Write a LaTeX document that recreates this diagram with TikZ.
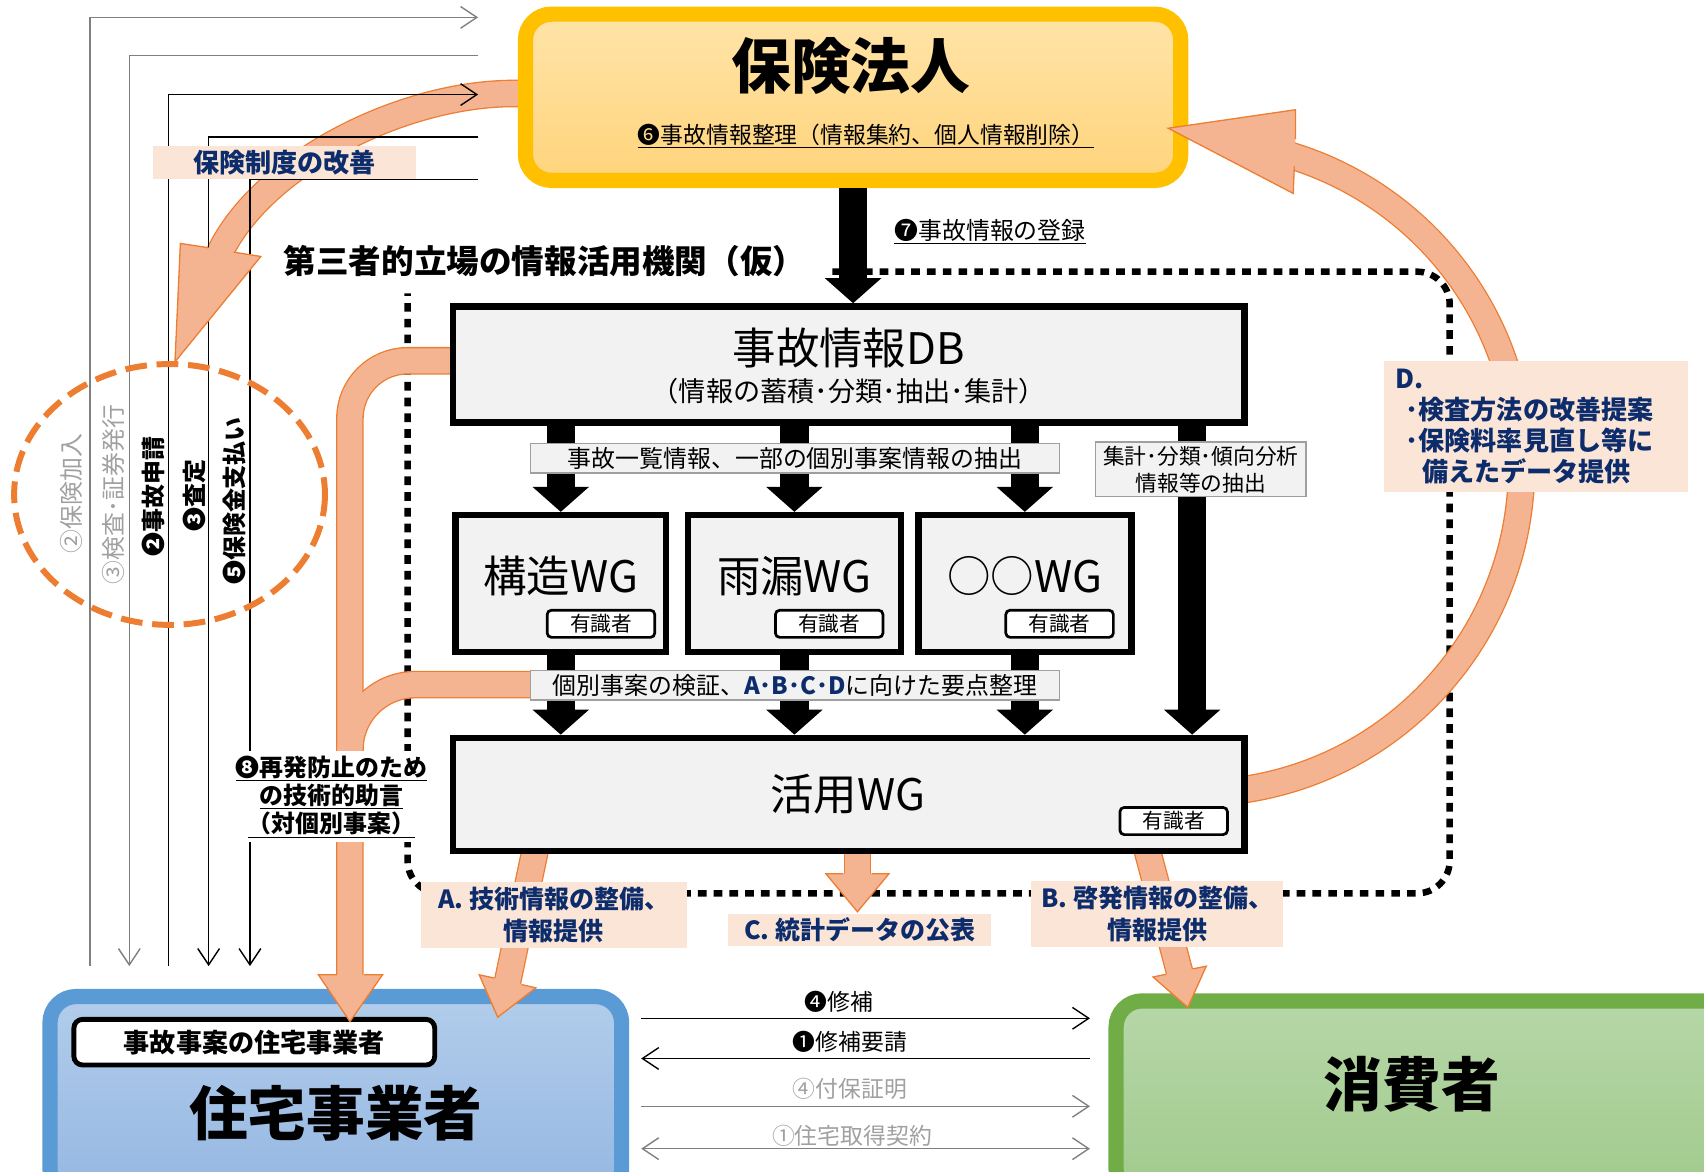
\documentclass[tikz,border=0pt]{standalone}
\usepackage{fontspec}
\setmainfont{Noto Sans CJK JP}
\usetikzlibrary{arrows.meta,positioning}

\definecolor{capgold}{HTML}{FFC000}
\definecolor{captop}{HTML}{FFE4A8}
\definecolor{capbot}{HTML}{FFD47C}
\definecolor{bizline}{HTML}{5B9BD5}
\definecolor{biztop}{HTML}{B2CDEB}
\definecolor{bizbot}{HTML}{95B7E2}
\definecolor{userline}{HTML}{70AD47}
\definecolor{usertop}{HTML}{B6D7A8}
\definecolor{userbot}{HTML}{A1CA8C}
\definecolor{peach}{HTML}{F4B492}
\definecolor{peachline}{HTML}{ED7D31}
\definecolor{tagfill}{HTML}{FBE5D6}
\definecolor{navy}{HTML}{0D2C6C}
\definecolor{boxgray}{HTML}{F2F2F2}
\definecolor{linegray}{HTML}{808080}
\definecolor{textgray}{HTML}{A0A0A0}

\tikzset{
  capframe/.style={draw=#1, line width=14pt, rounded corners=24pt, inner sep=0pt},
  graybox/.style={draw, line width=6pt, fill=boxgray, inner sep=0pt},
  expert/.style={draw, line width=2.5pt, rounded corners=4pt, fill=white, inner sep=0pt,
    minimum width=99pt, minimum height=25pt, font=\fontsize{19}{19}\selectfont},
  notebox/.style={draw=gray!75, line width=1.5pt, fill=boxgray, inner sep=0pt, align=center},
  tagbox/.style={fill=tagfill, text=navy, inner sep=0pt, align=center,
    font=\bfseries\fontsize{23}{29}\selectfont},
  feed/.style={line width=1.3pt, -{Straight Barb[length=15pt, width=20pt]}},
  band/.style={draw=peachline, line width=1.2pt, double=peach, double distance=23pt},
  bandedge/.style={draw=peachline, line width=25.4pt},
  bandcore/.style={draw=peach, line width=23pt},
  tipfill/.style={fill=peach},
  tiprim/.style={draw=peachline, line width=1.2pt},
  bigarrow/.style={line width=26pt, -{Triangle[length=23pt, width=52pt, line width=0pt]}},
  dotframe/.style={line width=6pt, dash pattern=on 8pt off 6.5pt},
  dashring/.style={draw=peachline, line width=5.5pt, dash pattern=on 20pt off 9pt},
  vtext/.style={rotate=90, font=\fontsize{22}{22}\selectfont},
}

\begin{document}
\begin{tikzpicture}[x=1pt, y=-1pt]
  \useasboundingbox (0,0) rectangle (1568,1078);
  \clip (0,0) rectangle (1568,1078);
  %
  \draw[dotframe] (766,250) -- (1304,250) arc[start angle=270, end angle=360, radius=30]
    -- (1334,792) arc[start angle=0, end angle=90, radius=30]
    -- (405,822) arc[start angle=90, end angle=180, radius=30] -- (375,270); % third party frame
  %
  \draw[band] (490,86) -- (473,86) .. controls (370,86) and (244,150) .. (203.5,230) -- (199,239); % to the ring
  \draw[band] (1130,728) -- (1146.9,726.3) arc[start angle=81, end angle=-73, radius=300]; % D
  \draw[bandedge] (420,332) -- (375,332) arc[start angle=270, end angle=180, radius=53] -- (322,905);
  \draw[bandedge] (495,630) -- (382,630) arc[start angle=270, end angle=180, radius=60] -- (322,720);
  \draw[bandcore] (420,332) -- (375,332) arc[start angle=270, end angle=180, radius=53] -- (322,905);
  \draw[bandcore] (495,630) -- (382,630) arc[start angle=270, end angle=180, radius=60] -- (322,720);
  \draw[band] (493,780) -- (465,913);   % A
  \draw[band] (1055,780) -- (1088,904); % B
  \draw[band] (789,780) -- (789,812);   % C
  %
  \coordinate (up1) at (83,889);   \coordinate (in1) at (440,16);  % left feeds
  \coordinate (out2) at (440,51);  \coordinate (dn2) at (119,889);
  \coordinate (up3) at (155,889);  \coordinate (in3) at (440,87);
  \coordinate (out4) at (440,126); \coordinate (dn4) at (192,889);
  \coordinate (out5) at (440,165); \coordinate (dn5) at (230,889);
  \draw[feed, draw=linegray] (up1) |- (in1);
  \draw[feed, draw=linegray] (out2) -| (dn2);
  \draw[feed] (up3) |- (in3);
  \draw[feed] (out4) -| (dn4);
  \draw[feed] (out5) -| (dn5);
  %
  \node[capframe=capgold, top color=captop, bottom color=capbot,
    minimum width=603pt, minimum height=153pt] (insurer) at (785,89.5) {};
  \node[font=\bfseries\fontsize{55}{55}\selectfont] (insurername) at (783,61) {保険法人};
  \node[font=\fontsize{21}{21}\selectfont] (insurernote) at (797,125)
    {\underline{❻事故情報整理（情報集約、個人情報削除）}};
  %
  \node[graybox, minimum width=728pt, minimum height=107pt] (db) at (781,335.5) {};
  \node[font=\fontsize{40}{40}\selectfont] (dbname) at (781,320) {事故情報DB};
  \node[font=\fontsize{25}{25}\selectfont] (dbnote) at (781,360) {（情報の蓄積･分類･抽出･集計）};
  %
  \node[graybox, minimum width=194pt, minimum height=126pt] (wg1) at (516,537) {};
  \node[graybox, minimum width=196pt, minimum height=126pt] (wg2) at (731,537) {};
  \node[graybox, minimum width=196pt, minimum height=126pt] (wg3) at (943,537) {};
  \node[font=\fontsize{40}{40}\selectfont] (wg1name) at (516,530) {構造WG};
  \node[font=\fontsize{40}{40}\selectfont] (wg2name) at (731,530) {雨漏WG};
  \node[font=\fontsize{40}{40}\selectfont] (wg3name) at (943,530) {○○WG};
  \node[expert] (wg1exp) at (553,574) {有識者};
  \node[expert] (wg2exp) at (763,574) {有識者};
  \node[expert] (wg3exp) at (975,574) {有識者};
  %
  \node[graybox, minimum width=728pt, minimum height=104pt] (use) at (781,731) {};
  \node[font=\fontsize{40}{40}\selectfont] (usename) at (780,731) {活用WG};
  \node[expert] (useexp) at (1080,755.5) {有識者};
  %
  \node[capframe=bizline, top color=biztop, bottom color=bizbot,
    minimum width=526pt, minimum height=183pt] (biz) at (309,1008.5) {};
  \node[draw, line width=4.5pt, rounded corners=8pt, fill=white, minimum width=332pt,
    minimum height=42pt, font=\bfseries\fontsize{24}{24}\selectfont] (bizcase) at (234,959) {事故事案の住宅事業者};
  \node[font=\bfseries\fontsize{54}{54}\selectfont] (bizname) at (309,1024) {住宅事業者};
  %
  \node[capframe=userline, top color=usertop, bottom color=userbot,
    minimum width=573pt, minimum height=179pt] (user) at (1313.5,1010.5) {};
  \node[font=\bfseries\fontsize{54}{54}\selectfont] (username) at (1299,998) {消費者};
  %
  \coordinate (sumdrop) at (1097,0);
  \draw[bigarrow] (insurer.south) -- (insurer.south |- db.north);
  \draw[bigarrow] (db.south -| wg1) -- (wg1.north);
  \draw[bigarrow] (db.south -| wg2) -- (wg2.north);
  \draw[bigarrow] (db.south -| wg3) -- (wg3.north);
  \draw[bigarrow] (wg1.south) -- (wg1.south |- use.north);
  \draw[bigarrow] (wg2.south) -- (wg2.south |- use.north);
  \draw[bigarrow] (wg3.south) -- (wg3.south |- use.north);
  \draw[bigarrow] (db.south -| sumdrop) -- (use.north -| sumdrop);
  %
  \fill[tipfill] (192,228) -- (166,224) -- (161,333) -- (240,236) -- (215,232) -- cycle; % heads
  \draw[tiprim] (192,228) -- (166,224) -- (161,333) -- (240,236) -- (215,232);
  \fill[tipfill] (1192,128) -- (1192,101) -- (1075,118) -- (1190,178) -- (1191,153) -- cycle;
  \draw[tiprim] (1192,128) -- (1192,101) -- (1075,118) -- (1190,178) -- (1191,153);
  \fill[tipfill] (310,897) -- (293,897) -- (322,940) -- (352,897) -- (335,897) -- cycle;
  \draw[tiprim] (310,897) -- (293,897) -- (322,940) -- (352,897) -- (335,897);
  \fill[tipfill] (455,900) -- (441,897) -- (458,936) -- (493,909) -- (480,906) -- cycle;
  \draw[tiprim] (455,900) -- (441,897) -- (458,936) -- (493,909) -- (480,906);
  \fill[tipfill] (1073,896.5) -- (1061,899) -- (1093,927) -- (1110,889) -- (1098,891.5) -- cycle;
  \draw[tiprim] (1073,896.5) -- (1061,899) -- (1093,927) -- (1110,889) -- (1098,891.5);
  \fill[tipfill] (776,804) -- (760,804) -- (789,839) -- (818,804) -- (802,804) -- cycle;
  \draw[tiprim] (776,804) -- (760,804) -- (789,839) -- (818,804) -- (802,804);
  %
  \node[notebox, minimum width=487pt, minimum height=27pt, font=\fontsize{22}{22}\selectfont]
    (pick) at (731.5,421.5) {事故一覧情報、一部の個別事案情報の抽出};
  \node[notebox, minimum width=194pt, minimum height=50pt, font=\fontsize{20}{25}\selectfont]
    (sums) at (1105,432) {集計･分類･傾向分析\\情報等の抽出};
  \node[notebox, minimum width=487pt, minimum height=27pt, font=\fontsize{22}{22}\selectfont]
    (check) at (731.5,630.5) {個別事案の検証、{\color{navy}\bfseries A･B･C･D}に向けた要点整理};
  %
  \node[tagbox, minimum width=242pt, minimum height=31pt, font=\bfseries\fontsize{24}{24}\selectfont]
    (reform) at (262,149.5) {保険制度の改善};
  \node[tagbox, minimum width=245pt, minimum height=60pt] (tagA) at (509.5,842) {A. 技術情報の整備、\\情報提供};
  \node[tagbox, minimum width=242pt, minimum height=29pt] (tagC) at (791,856) {C. 統計データの公表};
  \node[tagbox, minimum width=232pt, minimum height=60pt] (tagB) at (1065,841) {B. 啓発情報の整備、\\情報提供};
  \node[tagbox, align=left, text width=258pt, inner xsep=11pt, minimum height=120pt,
    font=\bfseries\fontsize{24}{28.5}\selectfont] (tagD) at (1413.5,392.5)
    {D.\\\hspace*{9pt}･検査方法の改善提案\\\hspace*{9pt}･保険料率見直し等に\\\hspace*{24pt}備えたデータ提供};
  %
  \node[font=\bfseries\fontsize{30}{30}\selectfont] (agency) at (501,240) {第三者的立場の情報活用機関（仮）};
  \node[font=\fontsize{22}{22}\selectfont] (register) at (911,213) {\underline{❼事故情報の登録}};
  \node[fill=white, inner sep=4pt, align=center, font=\bfseries\fontsize{22}{26}\selectfont]
    (advice) at (305,733) {\underline{❽再発防止のため}\\\underline{の技術的助言}\\\underline{（対個別事案）}};
  %
  \draw[dashring] (156,455) ellipse[x radius=143, y radius=120]; % claim ring
  \node[vtext, text=textgray] (join) at (66,454) {②保険加入};
  \node[vtext, text=textgray] (issue) at (104,455) {③検査･証券発行};
  \node[vtext, font=\bfseries\fontsize{22}{22}\selectfont] (claim) at (141,457) {❷事故申請};
  \node[vtext, font=\bfseries\fontsize{22}{22}\selectfont] (assess) at (179,456) {❸査定};
  \node[vtext, font=\bfseries\fontsize{22}{22}\selectfont] (payout) at (216,461) {❺保険金支払い};
  %
  \coordinate (bl1) at (590,937);  \coordinate (br1) at (1003,937);  % bottom rows
  \coordinate (bl2) at (590,974);  \coordinate (br2) at (1003,974);
  \coordinate (bl3) at (590,1018); \coordinate (br3) at (1003,1018);
  \coordinate (bl4) at (590,1057); \coordinate (br4) at (1003,1057);
  \draw[feed] (bl1) -- (br1);
  \draw[feed] (br2) -- (bl2);
  \draw[feed, draw=linegray] (bl3) -- (br3);
  \draw[feed, draw=linegray, {Straight Barb[length=15pt, width=20pt]}-{Straight Barb[length=15pt, width=20pt]}] (bl4) -- (br4);
  \node[font=\fontsize{21}{21}\selectfont] (repair) at (772,922) {❹修補};
  \node[font=\fontsize{21}{21}\selectfont] (request) at (782,959) {❶修補要請};
  \node[font=\fontsize{21}{21}\selectfont, text=textgray] (cert) at (782,1002) {④付保証明};
  \node[font=\fontsize{21}{21}\selectfont, text=textgray] (deal) at (784,1045) {①住宅取得契約};
\end{tikzpicture}
\end{document}
